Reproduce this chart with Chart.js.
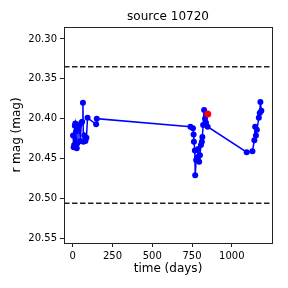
<!DOCTYPE html>
<html>
<head>
<meta charset="utf-8">
<script src="https://cdn.jsdelivr.net/npm/chart.js@4/dist/chart.umd.min.js"></script>
<style>
  html, body { margin: 0; padding: 0; background: #fff; }
  #wrap { width: 288px; height: 288px; }
</style>
</head>
<body>
<div id="wrap"><canvas id="lc" width="288" height="288"></canvas></div>
<script>
// light curve, time in days and r magnitude
var days = [2, 6, 9, 13, 16, 20, 25, 29, 33, 40, 48, 54, 59, 64, 67, 73, 80, 86, 93, 147, 151,
            740, 756, 760, 762, 768, 770, 776, 784, 789, 795, 800, 806, 812, 815, 820, 826, 832, 838, 848,
            1094, 1130, 1142, 1147, 1152, 1158, 1170, 1176, 1180, 1186];
var mags = [20.421, 20.436, 20.433, 20.409, 20.406, 20.416, 20.437, 20.431, 20.410, 20.408, 20.428, 20.405, 20.404, 20.380, 20.429, 20.421, 20.428, 20.424, 20.399, 20.407, 20.400,
            20.410, 20.412, 20.420, 20.429, 20.440, 20.471, 20.452, 20.448, 20.438, 20.454, 20.446, 20.433, 20.429, 20.423, 20.408, 20.389, 20.400, 20.405, 20.410,
            20.442, 20.441, 20.427, 20.410, 20.421, 20.414, 20.399, 20.393, 20.379, 20.390];

// flagged point (red)
var flareDays = [849];
var flareMags = [20.394];

// dashed reference levels
var refLevels = [20.335, 20.506];

// axes
var xRange = [-55, 1253];
var yRange = [20.285, 20.556];
var xTicks = [0, 250, 500, 750, 1000];
var yTicks = [20.30, 20.35, 20.40, 20.45, 20.50, 20.55];

var pts = days.map(function (d, i) { return { x: d, y: mags[i] }; });
var redPts = flareDays.map(function (d, i) { return { x: d, y: flareMags[i] }; });

var datasets = [
  {
    data: redPts, showLine: false, order: 0,
    backgroundColor: 'rgb(255,0,0)', borderColor: 'rgb(255,0,0)',
    pointRadius: 3.5, pointBorderWidth: 0
  },
  {
    data: pts, showLine: true, order: 1,
    borderColor: 'rgb(0,0,255)', backgroundColor: 'rgb(0,0,255)',
    borderWidth: 1.5, pointRadius: 3, pointBorderWidth: 0
  }
];
refLevels.forEach(function (lv) {
  datasets.push({
    data: [{ x: xRange[0], y: lv }, { x: xRange[1], y: lv }],
    showLine: true, order: 2,
    borderColor: '#222', borderWidth: 1.5, borderDash: [5.5, 2.5],
    pointRadius: 0
  });
});

// frame round the plot area
var boxPlugin = {
  id: 'box',
  afterDraw: function (chart) {
    var a = chart.chartArea, ctx = chart.ctx;
    ctx.save();
    ctx.strokeStyle = '#222';
    ctx.lineWidth = 1;
    ctx.strokeRect(Math.round(a.left) + 0.5, Math.round(a.top) + 0.5, Math.round(a.right - a.left), Math.round(a.bottom - a.top));
    ctx.restore();
  }
};

Chart.defaults.font.family = 'DejaVu Sans';
Chart.defaults.color = '#000';

new Chart(document.getElementById('lc'), {
  type: 'scatter',
  data: { datasets: datasets },
  options: {
    responsive: false,
    animation: false,
    layout: { padding: { left: 0, right: 16, top: 0, bottom: 0 } },
    plugins: {
      legend: { display: false },
      tooltip: { enabled: false },
      title: {
        display: true, text: 'source 10720', fullSize: false,
        font: { size: 12, weight: 'normal' }, color: '#000',
        padding: { top: 10, bottom: 2.6 }
      }
    },
    scales: {
      x: {
        type: 'linear', min: xRange[0], max: xRange[1],
        afterBuildTicks: function (s) { s.ticks = xTicks.map(function (v) { return { value: v }; }); },
        afterFit: function (s) { s.height = 45; },
        ticks: { font: { size: 10 }, color: '#000', padding: 3, maxRotation: 0,
                 callback: function (v) { return String(v); } },
        grid: { drawOnChartArea: false, tickLength: 4, color: '#222' },
        border: { display: true, color: '#222' },
        title: { display: true, text: 'time (days)', font: { size: 12 }, color: '#000', padding: { top: 0, bottom: 11.8 } }
      },
      y: {
        type: 'linear', reverse: true, min: yRange[0], max: yRange[1],
        afterBuildTicks: function (s) { s.ticks = yTicks.map(function (v) { return { value: v }; }); },
        afterFit: function (s) { s.width = 64; },
        ticks: { font: { size: 10 }, color: '#000', padding: 3,
                 callback: function (v) { return v.toFixed(2); } },
        grid: { drawOnChartArea: false, tickLength: 4, color: '#222' },
        border: { display: true, color: '#222' },
        title: { display: true, text: 'r mag (mag)', font: { size: 12 }, color: '#000', padding: { top: 10, bottom: 0 } }
      }
    }
  },
  plugins: [boxPlugin]
});
</script>
</body>
</html>
